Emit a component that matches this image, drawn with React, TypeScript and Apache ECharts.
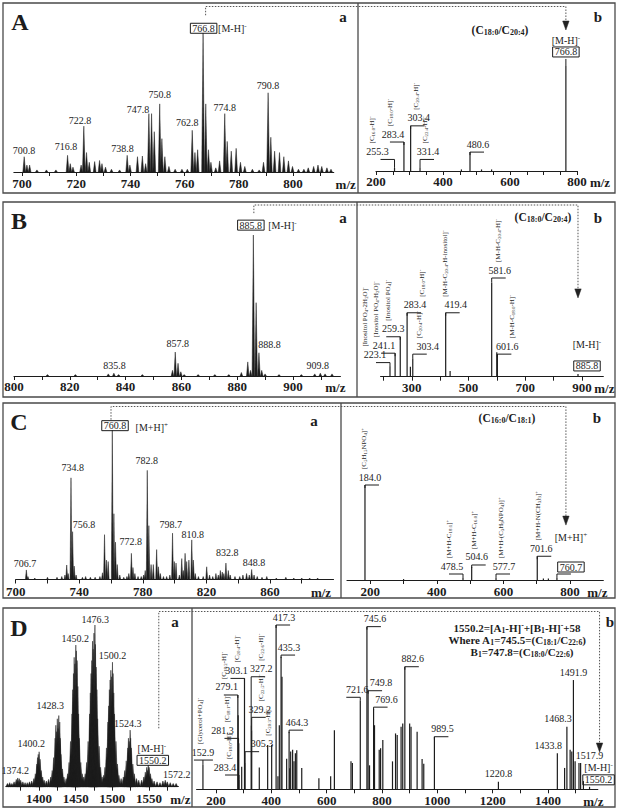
import React, { useEffect, useRef } from "react";
import * as echarts from "echarts";

const FONT = "'Liberation Serif','DejaVu Serif','Times New Roman',serif";
const INK = "#1c1c1c";

type Ann = { mz: number; lvl: number; side: string; text: string; ion?: string; boxed?: boolean; pre?: string; preLvl?: number };
type Lab = [string, number, number, number?];

/* ================= Panel A ================= */
const A_MS1_TICK_LABELS = [700, 720, 740, 760, 780, 800];
const A_MS1_TICKS = [700, 710, 720, 730, 740, 750, 760, 770, 780, 790, 800, 810];
const A_MS1_PEAKS: [number, number][] = [
  [700.8, 11], [701.8, 5], [702.8, 5], [705.5, 1.5], [709, 1.5], [712.5, 1.5], [716.8, 12], [717.8, 6], [718.8, 3.5],
  [721.8, 5], [722.8, 33], [723.8, 14], [724.8, 7], [726.8, 7.5], [728.6, 8.3], [729.5, 6], [730.8, 3.5], [733, 2],
  [736, 1.5], [738.8, 12], [739.8, 5], [742.6, 11], [744.4, 11.5], [745.6, 6], [746.8, 42], [747.8, 42], [748.8, 29],
  [750.8, 49], [751.6, 24], [752.7, 11], [754.2, 4], [756.5, 2], [759, 2], [761, 2], [762.8, 30], [763.8, 14],
  [764.8, 16], [766.8, 100], [767.8, 49], [768.8, 16], [769.7, 7], [771.5, 3], [772.9, 8], [774.8, 42], [775.7, 22],
  [777.2, 15], [779.0, 17], [780.6, 7], [782.2, 4], [785, 2], [787.5, 1.5], [789.1, 7], [790.8, 57], [791.8, 25],
  [793.2, 15], [795.0, 14], [796.6, 11], [798.3, 8], [799.8, 4], [802, 2], [804, 2], [805.6, 3], [807.6, 4],
  [809.2, 5], [810.6, 4], [812.5, 3], [814, 2],
];
const A_MS1_LABELS: Lab[] = [
  ["700.8", 700.7, 15.8], ["716.8", 716.2, 18.2], ["722.8", 721.4, 37.4], ["738.8", 737.1, 17],
  ["747.8", 742.8, 45], ["750.8", 750.8, 55.4], ["762.8", 761.0, 35.5], ["774.8", 774.8, 46.5],
  ["790.8", 790.8, 61.9], ["766.8", 767.0, 103.4, 1], ["[M-H]^{-}", 777.6, 103.4],
];
const A_MS2_TICK_LABELS = [200, 400, 600, 800];
const A_MS2_TICKS = [200, 250, 300, 350, 400, 450, 500, 550, 600, 650, 700, 750, 800];
const A_MS2_PEAKS: [number, number][] = [
  [255.3, 3], [283.4, 27.6], [303.4, 43], [331.4, 3], [455, 1.5], [480.6, 18], [515, 1.5], [545, 1.5], [766.8, 100],
];
const A_MS2_ANNS: Ann[] = [
  { mz: 255.3, lvl: 11, side: "L", text: "255.3", ion: "[C_{16:0}-H]^{-}" },
  { mz: 283.4, lvl: 27.6, side: "L", text: "283.4", ion: "[C_{18:0}-H]^{-}" },
  { mz: 303.4, lvl: 43, side: "R", text: "303.4", ion: "[C_{20:4}-H]^{-}" },
  { mz: 331.4, lvl: 11, side: "R", text: "331.4", ion: "[C_{22:4}-H]^{-}" },
  { mz: 480.6, lvl: 18, side: "R", text: "480.6" },
  { mz: 766.8, lvl: 106.7, side: "N", text: "766.8", boxed: true, pre: "[M-H]^{-}", preLvl: 117 },
];

/* ================= Panel B ================= */
const B_MS1_TICK_LABELS = [800, 820, 840, 860, 880, 900];
const B_MS1_TICKS = [800, 810, 820, 830, 840, 850, 860, 870, 880, 890, 900, 910];
const B_MS1_PEAKS: [number, number][] = [
  [812, 1], [822, 1], [833.8, 1.5], [835.8, 2], [837.5, 1], [846, 1], [856.8, 4], [857.8, 17], [858.8, 9],
  [859.8, 3], [861, 1], [866, 1], [872, 1], [877, 1], [881.5, 2.5], [883.8, 10], [884.8, 4], [885.8, 100],
  [886.8, 52], [887.8, 16.5], [888.8, 4], [890, 1.5], [895, 1], [903, 1], [907.8, 1.5], [909.8, 2], [911.5, 1.5],
  [914, 1.5],
];
const B_MS1_LABELS: Lab[] = [
  ["835.8", 836, 7.8], ["857.8", 858.7, 22.7], ["888.8", 891.6, 22], ["909.8", 908.9, 7.8],
  ["885.8", 884.9, 107, 1], ["[M-H]^{-}", 896.2, 107],
];
const B_MS2_TICK_LABELS = [300, 500, 700, 900];
const B_MS2_TICKS = [200, 300, 400, 500, 600, 700, 800, 900];
const B_MS2_PEAKS: [number, number][] = [
  [223.1, 11], [241.1, 25], [259.3, 42.5], [283.4, 68], [295, 10.6], [303.4, 19], [419.4, 68], [435, 6],
  [581.6, 100], [599.6, 26], [601.6, 24], [885.8, 3],
];
const B_MS2_ANNS: Ann[] = [
  { mz: 223.1, lvl: 15, side: "L", text: "223.1", ion: "[Inositol PO_{4}-2H_{2}O]^{-}" },
  { mz: 241.1, lvl: 25, side: "L", text: "241.1", ion: "[Inositol PO_{4}-H_{2}O]^{-}" },
  { mz: 259.3, lvl: 42.5, side: "L", text: "259.3", ion: "[Inositol PO_{4}]^{-}" },
  { mz: 283.4, lvl: 68, side: "R", text: "283.4", ion: "[C_{18:0}-H]^{-}" },
  { mz: 303.4, lvl: 24, side: "R", text: "303.4", ion: "[C_{20:4}-H]^{-}" },
  { mz: 419.4, lvl: 68, side: "R", text: "419.4", ion: "[M-H-C_{20:4}-H-inositol]^{-}" },
  { mz: 581.6, lvl: 105, side: "R", text: "581.6", ion: "[M-H-C_{20:4}-H]^{-}" },
  { mz: 601.6, lvl: 24, side: "R", text: "601.6", ion: "[M-H-C_{18:0}-H]^{-}" },
  { mz: 885.8, lvl: 4, side: "r", text: "885.8", boxed: true, pre: "[M-H]^{-}", preLvl: 25.7 },
];

/* ================= Panel C ================= */
const C_MS1_TICK_LABELS = [700, 740, 780, 820, 860];
const C_MS1_TICKS = [700, 720, 740, 760, 780, 800, 820, 840, 860, 880];
const C_MS1_PEAKS: [number, number][] = [
  [706.7, 6.4], [707.7, 2], [712, 1], [720, 1.5], [726, 1.5], [729, 2], [731, 3], [732.1, 9.7], [733, 4],
  [734.8, 68], [735.8, 32], [736.8, 9], [738, 3], [742, 1.5], [744, 2], [747, 1.5], [750, 1.5], [753, 2],
  [754.6, 4.5], [755.9, 30], [757.1, 13], [758.2, 12], [760.8, 100], [761.8, 44], [762.8, 25], [763.9, 10],
  [765.5, 3], [768, 1.5], [770, 2], [771.2, 4], [772.8, 17.5], [773.8, 8], [775, 4], [777, 2], [779, 2],
  [780.5, 3], [781.5, 6], [782.8, 73], [783.8, 36], [785.2, 10], [786.6, 10], [788.7, 20], [789.8, 8.5],
  [791, 4], [793, 2], [795, 2], [797, 3], [798.7, 31], [799.8, 12], [800.9, 11], [803, 3], [804.5, 14],
  [805.5, 6], [806.6, 17.5], [807.6, 12], [809, 13], [810.8, 26.5], [811.8, 13], [813, 4], [815, 2],
  [818, 2], [820.2, 8.5], [822, 3], [824, 2], [826, 4], [827.5, 3], [828.8, 6], [830, 5], [831, 4],
  [832.3, 11], [833.8, 6], [835, 3], [838, 2], [841, 2], [843, 3], [845.3, 4], [847, 3], [848.5, 6.7],
  [850, 3], [852, 2], [855, 1.5], [858, 2], [864, 1], [870, 1.5], [875, 1], [880, 1], [885, 1], [890, 1],
];
const C_MS1_LABELS: Lab[] = [
  ["760.8", 762.5, 102.9, 1], ["[M+H]^{+}", 785.6, 101.5], ["734.8", 735.9, 74.8], ["782.8", 782.4, 79.3],
  ["756.8", 743, 36.5], ["772.8", 772.4, 25.3], ["798.7", 797.5, 36.5], ["810.8", 811.4, 29.8],
  ["832.8", 833.2, 17.9], ["848.8", 850, 11.2], ["706.7", 705.9, 10.4],
];
const C_MS2_TICK_LABELS = [200, 400, 600, 800];
const C_MS2_TICKS = [200, 300, 400, 500, 600, 700, 800];
const C_MS2_PEAKS: [number, number][] = [
  [184.0, 100], [300, 1], [478.5, 2], [504.6, 14], [577.7, 3], [701.6, 25], [720, 1.5], [735, 1.5], [760.7, 2],
];
const C_MS2_ANNS: Ann[] = [
  { mz: 184.0, lvl: 100, side: "R", text: "184.0", ion: "[C_{5}H_{15}NPO_{4}]^{+}" },
  { mz: 478.5, lvl: 6.3, side: "L", text: "478.5", ion: "[M+H-C_{18:1}]^{+}" },
  { mz: 504.6, lvl: 15.8, side: "R", text: "504.6", ion: "[M+H-C_{16:0}]^{+}" },
  { mz: 577.7, lvl: 6.3, side: "R", text: "577.7", ion: "[M+H-(C_{3}H_{9}NPO_{4})]^{+}" },
  { mz: 701.6, lvl: 25, side: "R", text: "701.6", ion: "[M+H-N(CH_{3})_{3}]^{+}" },
  { mz: 760.7, lvl: 6.3, side: "R", text: "760.7", boxed: true, pre: "[M+H]^{+}", preLvl: 36.3 },
];

/* ================= Panel D ================= */
const D_MS1_TICK_LABELS = [1400, 1450, 1500, 1550];
const D_MS1_TICKS = [1375, 1400, 1425, 1450, 1475, 1500, 1525, 1550, 1575];
const D_MS1_PEAKS: [number, number][] = [
  [1357, 2], [1360, 2.5], [1363, 2], [1366, 3], [1369, 4.5], [1371, 5.4], [1373, 5], [1375, 4], [1378, 3],
  [1381, 2.5], [1384, 2.5], [1387, 3], [1390, 3.5],
  [1393, 5], [1395, 8], [1397, 14], [1398, 18], [1399, 20], [1400.2, 21.6], [1401.5, 17], [1403, 10], [1405, 6],
  [1407, 4], [1410, 3.5], [1413, 4.5], [1416, 6],
  [1418, 10], [1420, 18], [1422, 30], [1423, 38], [1424, 34], [1425, 42], [1426, 36], [1427, 44], [1428.3, 40],
  [1429, 30], [1430, 20], [1432, 11], [1434, 6], [1437, 5],
  [1439, 8], [1441, 15], [1443, 28], [1445, 45], [1446, 60], [1447, 70], [1448, 80], [1449, 76], [1450.2, 87.6],
  [1451, 84], [1452, 78], [1453, 62], [1454, 45], [1455, 30], [1457, 15], [1459, 8], [1461, 6],
  [1463, 8], [1465, 15], [1467, 28], [1469, 45], [1470, 58], [1471, 70], [1472, 78], [1473, 90], [1474, 85],
  [1475, 95], [1476.3, 100], [1477, 88], [1478, 74], [1479, 60], [1480, 42], [1482, 25], [1484, 12], [1486, 6],
  [1488, 7], [1490, 12], [1492, 24], [1494, 40], [1495, 50], [1496, 60], [1497, 66], [1498, 72], [1499, 68],
  [1500.2, 77], [1501, 70], [1502, 58], [1503, 45], [1505, 28], [1507, 14], [1509, 7], [1512, 5],
  [1515, 6], [1517, 10], [1519, 16], [1521, 24], [1522, 30], [1523, 28], [1524.3, 35], [1525, 30], [1526, 24],
  [1528, 14], [1530, 8], [1533, 5], [1536, 4],
  [1540, 4], [1543, 6], [1545, 9], [1547, 12], [1548, 10], [1549, 13.4], [1550.2, 12], [1552, 8], [1554, 5],
  [1557, 3.5], [1561, 3], [1565, 2.5], [1569, 3.5], [1572.2, 4], [1575, 3], [1579, 2.5], [1583, 2], [1587, 2],
];
const D_MS1_LABELS: Lab[] = [
  ["1374.2", 1367.6, 10.3], ["1400.2", 1389.4, 26.8], ["1428.3", 1415.3, 50.5], ["1450.2", 1449.4, 91.8],
  ["1476.3", 1476.7, 103.7], ["1500.2", 1500.3, 81.4], ["1524.3", 1521.1, 39.2], ["[M-H]^{-}", 1553.9, 23.5],
  ["1550.2", 1555.2, 16.3, 1], ["1572.2", 1588, 7.7],
];
const D_MS2_TICK_LABELS = [200, 400, 600, 800, 1000, 1200, 1400];
const D_MS2_TICKS = [200, 300, 400, 500, 600, 700, 800, 900, 1000, 1100, 1200, 1300, 1400, 1500];
const D_MS2_PEAKS: [number, number][] = [
  [152.9, 14.8], [279.1, 57.4], [280.2, 45], [281.3, 31], [282.3, 28], [283.4, 5.7], [293, 13.7], [303.1, 67.5],
  [305.3, 16], [327.2, 39], [329.2, 36], [356.6, 13.2], [386.8, 27], [401.3, 27], [417.3, 100], [424, 8],
  [429, 39], [435.3, 80.7], [438.6, 68.5], [455.5, 18.6], [464.3, 35], [466.5, 12.8], [470, 23], [477, 24],
  [482, 17], [487, 22], [492, 23.7], [510, 13], [572, 6.7], [614.5, 8], [628, 36], [688, 17], [693, 16],
  [721.6, 54], [745.6, 99], [749.8, 60], [755, 14.6], [769.6, 49], [773, 39], [790, 24], [795, 25], [803, 30],
  [838, 17], [849, 34], [855, 33], [869, 38], [875, 40], [882.6, 74.6], [900, 40], [905, 38], [927, 35],
  [945, 18.5], [951, 15.6], [989.5, 32], [1220.8, 4.6], [1433.8, 22], [1460, 13], [1468.3, 38], [1480, 24],
  [1486, 23], [1491.9, 66.5], [1498, 17], [1512, 16], [1517.9, 16], [1528, 5], [1550.2, 1.5],
];
const D_MS2_ANNS: Ann[] = [
  { mz: 152.9, lvl: 17.8, side: "C", text: "152.9", ion: "[Glycerol+PO_{4}]^{-}" },
  { mz: 279.1, lvl: 57.4, side: "L", text: "279.1", ion: "[C_{18:2}-H]^{-}" },
  { mz: 281.3, lvl: 31, side: "L", text: "281.3", ion: "[C_{18:1}-H]^{-}" },
  { mz: 283.4, lvl: 8.7, side: "L", text: "283.4", ion: "[C_{18:0}-H]^{-}" },
  { mz: 303.1, lvl: 67.5, side: "L", text: "303.1", ion: "[C_{20:4}-H]^{-}" },
  { mz: 305.3, lvl: 22.9, side: "R", text: "305.3", ion: "[C_{20:3}-H]^{-}" },
  { mz: 327.2, lvl: 68.5, side: "R", text: "327.2", ion: "[C_{22:6}-H]^{-}" },
  { mz: 329.2, lvl: 43.8, side: "R", text: "329.2", ion: "[C_{22:5}-H]^{-}" },
  { mz: 417.3, lvl: 100, side: "R", text: "417.3" },
  { mz: 435.3, lvl: 81.7, side: "R", text: "435.3" },
  { mz: 464.3, lvl: 36, side: "R", text: "464.3" },
  { mz: 721.6, lvl: 56, side: "L", text: "721.6" },
  { mz: 745.6, lvl: 99, side: "R", text: "745.6" },
  { mz: 749.8, lvl: 60, side: "R", text: "749.8" },
  { mz: 769.6, lvl: 50, side: "R", text: "769.6" },
  { mz: 882.6, lvl: 74.6, side: "R", text: "882.6" },
  { mz: 989.5, lvl: 32, side: "R", text: "989.5" },
  { mz: 1220.8, lvl: 4.6, side: "N", text: "1220.8" },
  { mz: 1433.8, lvl: 22, side: "l", text: "1433.8" },
  { mz: 1468.3, lvl: 38, side: "l", text: "1468.3" },
  { mz: 1491.9, lvl: 66.5, side: "N", text: "1491.9" },
  { mz: 1517.9, lvl: 16, side: "r", text: "1517.9" },
  { mz: 1550.2, lvl: 1.5, side: "r", text: "1550.2", boxed: true, pre: "[M-H]^{-}", preLvl: 8.2 },
];

/* ================= layout (pixels, kept apart from the data) ================= */
const PANELS: any[] = [
  { key: "A", grid: { left: 13.9, top: 33, width: 319.8, height: 139 }, min: 697, max: 815, labels: A_MS1_TICK_LABELS, ticks: A_MS1_TICKS, kind: "profile", peaks: A_MS1_PEAKS, halfW: 0.5, texts: A_MS1_LABELS, gap: 12, margin: 5 },
  { key: "A", grid: { left: 376, top: 66, width: 201, height: 105 }, min: 200, max: 800, labels: A_MS2_TICK_LABELS, ticks: A_MS2_TICKS, kind: "stick", peaks: A_MS2_PEAKS, anns: A_MS2_ANNS, gap: 23, margin: 4 },
  { key: "B", grid: { left: 14, top: 235, width: 326.4, height: 141 }, min: 800, max: 917, labels: B_MS1_TICK_LABELS, ticks: B_MS1_TICKS, kind: "profile", peaks: B_MS1_PEAKS, halfW: 0.45, texts: B_MS1_LABELS, gap: -5, margin: 4 },
  { key: "B", grid: { left: 380.6, top: 282.7, width: 222.7, height: 94 }, min: 190, max: 975, labels: B_MS2_TICK_LABELS, ticks: B_MS2_TICKS, kind: "stick", peaks: B_MS2_PEAKS, anns: B_MS2_ANNS, gap: 1, margin: 4 },
  { key: "C", grid: { left: 15.7, top: 430, width: 317.8, height: 149.5 }, min: 700, max: 900, labels: C_MS1_TICK_LABELS, ticks: C_MS1_TICKS, kind: "profile", peaks: C_MS1_PEAKS, halfW: 0.6, texts: C_MS1_LABELS, gap: -12.5, margin: 5 },
  { key: "C", grid: { left: 347, top: 485, width: 256.3, height: 95 }, min: 130, max: 900, labels: C_MS2_TICK_LABELS, ticks: C_MS2_TICKS, kind: "stick", peaks: C_MS2_PEAKS, anns: C_MS2_ANNS, gap: -6, margin: 5 },
  { key: "D", grid: { left: 6, top: 625, width: 172.3, height: 161.7 }, min: 1355, max: 1590, labels: D_MS1_TICK_LABELS, ticks: D_MS1_TICKS, kind: "profile", peaks: D_MS1_PEAKS, halfW: 2.2, texts: D_MS1_LABELS, gap: 2, margin: 5 },
  { key: "D", grid: { left: 196.6, top: 625, width: 401.2, height: 164.3 }, min: 130, max: 1580, labels: D_MS2_TICK_LABELS, ticks: D_MS2_TICKS, kind: "stick", peaks: D_MS2_PEAKS, anns: D_MS2_ANNS, gap: -4.5, margin: 5 },
];

// pixel nudges of crowded annotation texts: [label dx, rotated-ion dx]
const NUDGE: Record<string, [number, number]> = {
  "A:255.3": [-6, -3],
  "B:223.1": [-4, -7],
  "B:241.1": [0, -5],
  "B:259.3": [4, -2],
  "B:283.4": [0, 10],
  "B:303.4": [7, -6],
  "B:419.4": [2, -8],
  "B:581.6": [0, 1],
  "B:601.6": [2, 8],
  "C:184.0": [-3, -3],
  "C:504.6": [-3, 0],
  "C:701.6": [-4, 0],
  "C:760.7": [6, 0],
  "D:281.3": [-5, 8],
  "D:283.4": [-3, 7],
  "D:303.1": [3, 4],
  "D:305.3": [9, 9],
  "D:327.2": [2, 3],
  "D:329.2": [0, 4],
  "D:721.6": [8, 0],
  "D:749.8": [5, 0],
  "D:769.6": [5, 0],
};

const BOXES = [
  { x: 3, y: 3, w: 612, h: 190, div: 358 },
  { x: 3, y: 202, w: 612, h: 195, div: 357 },
  { x: 3, y: 403, w: 612, h: 195, div: 341 },
  { x: 3, y: 608, w: 612, h: 199, div: 192 },
];

const CONNECTORS = [
  { from: 0, at: [767.0, 103.4], dx: 2, dy: -13, topY: 6.5, to: 1, target: [766.8, 100], tdx: 0, tipDy: -36 },
  { from: 2, at: [884.9, 107], dx: 3, dy: -12, topY: 205, to: 3, target: [885.8, 3], tdx: 0, tipDy: -76 },
  { from: 4, at: [762.5, 102.9], dx: -4, dy: -6, topY: 406.5, to: 5, target: [760.7, 2], tdx: 9, tipDy: -53 },
  { from: 6, at: [1555.2, 16.3], dx: 6, dy: -32, topY: 611.5, to: 7, target: [1550.2, 2], tdx: 10, tipDy: -34 },
];

/* ================= helpers ================= */
function toRich(s: string): string {
  return s.replace(/_\{([^}]*)\}/g, "{s|$1}").replace(/\^\{([^}]*)\}/g, "{u|$1}");
}
function richStyles(size: number, weight: string, fill: string) {
  const small = Math.max(4.5, Math.round(size * 0.7 * 10) / 10);
  return {
    s: { fontSize: small, fontFamily: FONT, fontWeight: weight, fill, verticalAlign: "bottom", lineHeight: small },
    u: { fontSize: small, fontFamily: FONT, fontWeight: weight, fill, verticalAlign: "top", lineHeight: small },
  };
}
function textEl(x: number, y: number, s: string, size: number, o: any = {}) {
  const weight = o.weight || "normal";
  const fill = o.fill || INK;
  return {
    type: "text",
    x,
    y,
    rotation: o.rotation || 0,
    silent: true,
    z2: 10,
    style: {
      text: toRich(s),
      rich: richStyles(size, weight, fill),
      fontSize: size,
      fontFamily: FONT,
      fontWeight: weight,
      fill,
      align: o.align || "center",
      verticalAlign: o.va || "middle",
      lineHeight: o.boxed ? Math.round(size * 1.02) : Math.round(size * 1.15),
      ...(o.boxed ? { borderColor: INK, borderWidth: 1, padding: [0, 2, 0, 2] } : {}),
    },
  };
}

const profileItem = (halfW: number) => (params: any, api: any) => {
  const mz = api.value(0);
  const h = api.value(1);
  const a = api.coord([mz - halfW, 0]);
  const b = api.coord([mz, h]);
  const c = api.coord([mz + halfW, 0]);
  return { type: "polygon", shape: { points: [a, b, c] }, style: { fill: INK, stroke: INK, lineWidth: 0.5 } };
};

const stickItem = (params: any, api: any) => {
  const mz = api.value(0);
  const b = api.coord([mz, 0]);
  const t = api.coord([mz, api.value(1)]);
  return { type: "line", shape: { x1: b[0], y1: b[1], x2: t[0], y2: t[1] }, style: { stroke: INK, lineWidth: 1.2 } };
};

const labelItem = (labels: Lab[]) => (params: any, api: any) => {
  const l = labels[params.dataIndex];
  const p = api.coord([l[1], l[2]]);
  return textEl(p[0], p[1], l[0], 10, { boxed: l[3] === 1 });
};

const annItem = (anns: Ann[], peaks: [number, number][], key: string) => (params: any, api: any) => {
  const a = anns[params.dataIndex];
  const nudge = NUDGE[key + ":" + a.text] || [0, 0];
  const p = api.coord([a.mz, a.lvl]);
  const pk = peaks.find((q) => Math.abs(q[0] - a.mz) < 0.05);
  const pkY = pk ? api.coord([a.mz, pk[1]])[1] : p[1] + 4;
  const L = 14;
  const children: any[] = [];
  const line = (pts: number[][]) =>
    children.push({ type: "polyline", shape: { points: pts }, style: { stroke: INK, lineWidth: 1, fill: "none" } });
  const vy = Math.max(pkY, p[1] + 3);
  let tx = p[0];
  if (a.side === "L") {
    line([[p[0] - L, p[1]], [p[0], p[1]], [p[0], vy]]);
    tx = p[0] - 11;
  } else if (a.side === "R") {
    line([[p[0] + L, p[1]], [p[0], p[1]], [p[0], vy]]);
    tx = p[0] + 8;
  } else if (a.side === "C") {
    line([[p[0] - 9, p[1]], [p[0] + 10, p[1]]]);
    line([[p[0], p[1]], [p[0], vy]]);
  } else if (a.side === "l") {
    tx = p[0] - 9;
  } else if (a.side === "r") {
    tx = p[0] + 9;
  } else if (a.side === "N" && a.boxed && pkY > p[1] + 1) {
    line([[p[0], p[1]], [p[0], pkY]]);
  }
  tx += nudge[0];
  const ty = p[1] - 2;
  children.push(textEl(tx, ty, a.text, 10, { va: "bottom", boxed: a.boxed }));
  let top = ty - 11;
  if (a.pre) {
    const py = a.preLvl != null ? api.coord([a.mz, a.preLvl])[1] - 2 : top - 1;
    children.push(textEl(tx, py, a.pre, 10, { va: "bottom" }));
    top = py - 11;
  }
  if (a.ion) {
    children.push(textEl(tx - 3 + nudge[1], top - 3, a.ion, 7, { rotation: Math.PI / 2, align: "left", va: "middle" }));
  }
  return { type: "group", children };
};

function buildOption() {
  const grid = PANELS.map((p) => ({ ...p.grid, containLabel: false, outerBoundsMode: "none" }));
  const xAxis = PANELS.map((p, i) => ({
    type: "value",
    gridIndex: i,
    min: p.min,
    max: p.max,
    axisLine: { show: true, onZero: false, lineStyle: { color: INK, width: 1.2 } },
    axisTick: { show: true, customValues: p.ticks, length: 4, inside: false, lineStyle: { color: INK, width: 1 } },
    axisLabel: {
      show: true,
      customValues: p.labels,
      margin: p.margin,
      fontSize: 13,
      fontWeight: "bold",
      fontFamily: FONT,
      color: INK,
      formatter: (v: number) => String(v),
    },
    splitLine: { show: false },
  }));
  const yAxis = PANELS.map((p, i) => ({ type: "value", gridIndex: i, min: 0, max: 100, show: false }));
  const series: any[] = [];
  PANELS.forEach((p, i) => {
    if (p.kind === "profile") {
      series.push({ type: "custom", xAxisIndex: i, yAxisIndex: i, renderItem: profileItem(p.halfW), data: p.peaks, silent: true, clip: false });
      series.push({
        type: "custom", xAxisIndex: i, yAxisIndex: i, renderItem: labelItem(p.texts),
        data: p.texts.map((l: Lab) => [l[1], l[2]]), silent: true, clip: false, z: 5,
      });
    } else {
      series.push({ type: "custom", xAxisIndex: i, yAxisIndex: i, renderItem: stickItem, data: p.peaks, silent: true, clip: false });
      series.push({
        type: "custom", xAxisIndex: i, yAxisIndex: i, renderItem: annItem(p.anns, p.peaks, p.key),
        data: p.anns.map((a: Ann) => [a.mz, a.lvl]), silent: true, clip: false, z: 5,
      });
    }
  });
  return { animation: false, backgroundColor: "#ffffff", grid, xAxis, yAxis, series };
}

function buildGraphic(chart: any) {
  const px = (g: number, v: number[]) => chart.convertToPixel({ gridIndex: g }, v) as number[];
  const els: any[] = [];
  BOXES.forEach((b) => {
    els.push({ type: "rect", silent: true, shape: { x: b.x, y: b.y, width: b.w, height: b.h }, style: { fill: "none", stroke: "#4a4a4a", lineWidth: 1.3 } });
    els.push({ type: "line", silent: true, shape: { x1: b.div, y1: b.y, x2: b.div, y2: b.y + b.h }, style: { stroke: "#4a4a4a", lineWidth: 1.3 } });
  });
  [["A", 20, 22], ["B", 19, 221], ["C", 19, 422], ["D", 19, 628]].forEach(([t, x, y]: any) =>
    els.push(textEl(x, y, t, 24, { weight: "bold" }))
  );
  [["a", 343, 17], ["b", 598, 17], ["a", 343, 218], ["b", 598, 218], ["a", 314, 421], ["b", 597, 418], ["a", 175, 622], ["b", 610, 622]].forEach(
    ([t, x, y]: any) => els.push(textEl(x, y, t, 15, { weight: "bold" }))
  );
  els.push(textEl(500, 30, "(C_{18:0}/C_{20:4})", 11.5, { weight: "bold" }));
  els.push(textEl(543, 217, "(C_{18:0}/C_{20:4})", 11.5, { weight: "bold" }));
  els.push(textEl(507, 418, "(C_{16:0}/C_{18:1})", 11.5, { weight: "bold" }));
  els.push(textEl(517, 628, "1550.2=[A_{1}-H]^{-}+[B_{1}-H]^{-}+58", 11, { weight: "bold" }));
  els.push(textEl(517, 640, "Where A_{1}=745.5=(C_{18:1}/C_{22:6})", 11, { weight: "bold" }));
  els.push(textEl(522, 652, "B_{1}=747.8=(C_{18:0}/C_{22:6})", 11, { weight: "bold" }));
  PANELS.forEach((p, i) => {
    const e = px(i, [p.max, 0]);
    els.push(textEl(e[0] + p.gap, e[1] + p.margin + 7.5, "m/z", 13, { weight: "bold" }));
  });
  CONNECTORS.forEach((c) => {
    const s = px(c.from, c.at);
    const t = px(c.to, c.target);
    const sx = s[0] + c.dx;
    const sy = s[1] + c.dy;
    const tx = t[0] + c.tdx;
    const tipY = t[1] + c.tipDy;
    els.push({
      type: "polyline", silent: true,
      shape: { points: [[sx, sy], [sx, c.topY], [tx, c.topY], [tx, tipY - 8]] },
      style: { fill: "none", stroke: "#555", lineWidth: 1, lineDash: [1.5, 1.5] },
    });
    els.push({
      type: "polygon", silent: true,
      shape: { points: [[tx - 3.2, tipY - 9], [tx + 3.2, tipY - 9], [tx, tipY]] },
      style: { fill: "#222", stroke: "#222", lineWidth: 0.5 },
    });
  });
  return els;
}

export default function App() {
  const ref = useRef<HTMLDivElement>(null);
  useEffect(() => {
    document.body.style.margin = "0";
    const chart = echarts.init(ref.current as HTMLDivElement, undefined, { renderer: "svg", width: 619, height: 810 });
    chart.setOption(buildOption() as any);
    chart.setOption({ graphic: buildGraphic(chart) } as any);
    return () => chart.dispose();
  }, []);
  return <div ref={ref} style={{ width: 619, height: 810, background: "#fff" }} />;
}
